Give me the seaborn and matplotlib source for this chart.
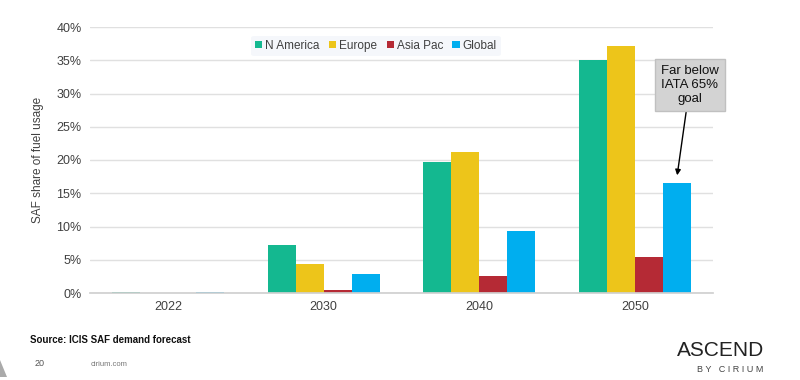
import matplotlib
matplotlib.use("Agg")
import matplotlib.pyplot as plt
import seaborn as sns
import pandas as pd
from matplotlib.ticker import PercentFormatter, FixedLocator

years = ["2022", "2030", "2040", "2050"]
regions = ["N America", "Europe", "Asia Pac", "Global"]
n_america = [0.2, 7.2, 19.7, 35.0]
europe = [0.05, 4.4, 21.2, 37.1]
asia_pac = [0.0, 0.45, 2.55, 5.4]
global_ = [0.1, 2.9, 9.3, 16.5]
colors = ["#14B890", "#EDC51A", "#B52A35", "#00AEEF"]

series = [n_america, europe, asia_pac, global_]
rows = []
for r, vals in zip(regions, series):
    for y, v in zip(years, vals):
        rows.append({"year": y, "region": r, "value": v})
df = pd.DataFrame(rows)

sns.set_theme(style="white")
plt.rcParams['font.family'] = ['Arial', 'Liberation Sans', 'DejaVu Sans']

fig = plt.figure(figsize=(8, 3.8), dpi=100)
ax = fig.add_axes([90/800, 1-293/380, 623/800, 266/380])

sns.barplot(data=df, x="year", y="value", hue="region", hue_order=regions,
            order=years, palette=colors, width=0.72, gap=0, ax=ax,
            edgecolor=None, linewidth=0, saturation=1, legend=True)

ax.set_ylim(0, 40)
ax.set_xlim(-0.5, 3.5)
ax.yaxis.set_major_formatter(PercentFormatter(decimals=0))
ax.set_yticks(range(0, 41, 5))
ax.grid(axis="y", color="#e0e0e0", linewidth=1)
ax.set_axisbelow(True)
for s in ["top", "right", "left"]:
    ax.spines[s].set_visible(False)
ax.spines["bottom"].set_color("#d0d0d0")
ax.tick_params(axis="y", length=0, labelsize=9, labelcolor="#404040", pad=6)
ax.tick_params(axis="x", which="major", length=0, labelsize=9, labelcolor="#404040", pad=6)
ax.xaxis.set_minor_locator(FixedLocator([-0.5, 0.5, 1.5, 2.5, 3.5]))
ax.tick_params(axis="x", which="minor", length=5, color="#d0d0d0", width=1)
ax.set_xlabel("")
ax.set_ylabel("SAF share of fuel usage", fontsize=8.5, color="#404040", labelpad=9)

leg = ax.legend(loc="center", bbox_to_anchor=(0.459, 0.929), ncol=4, frameon=True,
                fontsize=8.5, handlelength=0.6, handleheight=0.6, handletextpad=0.25,
                columnspacing=0.8, borderpad=0.35, borderaxespad=0)
leg.get_frame().set_facecolor("#f3f6fa")
leg.get_frame().set_edgecolor("none")
for t in leg.get_texts():
    t.set_color("#404040")

ax.annotate("Far below\nIATA 65%\ngoal", xy=(3.27, 17.7), xycoords="data",
            xytext=(0.963, 0.782), textcoords="axes fraction",
            ha="center", va="center", fontsize=9.5, color="#111111",
            linespacing=1.25,
            bbox=dict(boxstyle="square,pad=0.45", fc="#d3d3d3", ec="#c0c0c0"),
            arrowprops=dict(arrowstyle="-|>", color="black", lw=1,
                            mutation_scale=8, shrinkA=0, shrinkB=0),
            annotation_clip=False)

fig.text(30/800, 1-340/380, "Source: ICIS SAF demand forecast", fontsize=7,
         fontweight="bold", color="#111111", va="center")
fig.text(35/800, 1-364/380, "20", fontsize=6.5, color="#555555", va="center")
fig.text(91/800, 1-364/380, "cirium.com", fontsize=5.5, color="#777777", va="center")
fig.text(764/800, 1-350/380, "ASCEND", fontsize=15, color="#222222", va="center",
         ha="right", fontweight="light")
fig.text(763/800, 1-370/380, "B Y   C I R I U M", fontsize=6.5, color="#444444",
         va="center", ha="right")
fig.patches.append(plt.Polygon([[0, 3/380], [7/800, 3/380], [0, 20/380]], closed=True,
                               transform=fig.transFigure, fc="#aaaaaa", ec="none"))

fig.savefig("out.png", dpi=100)
